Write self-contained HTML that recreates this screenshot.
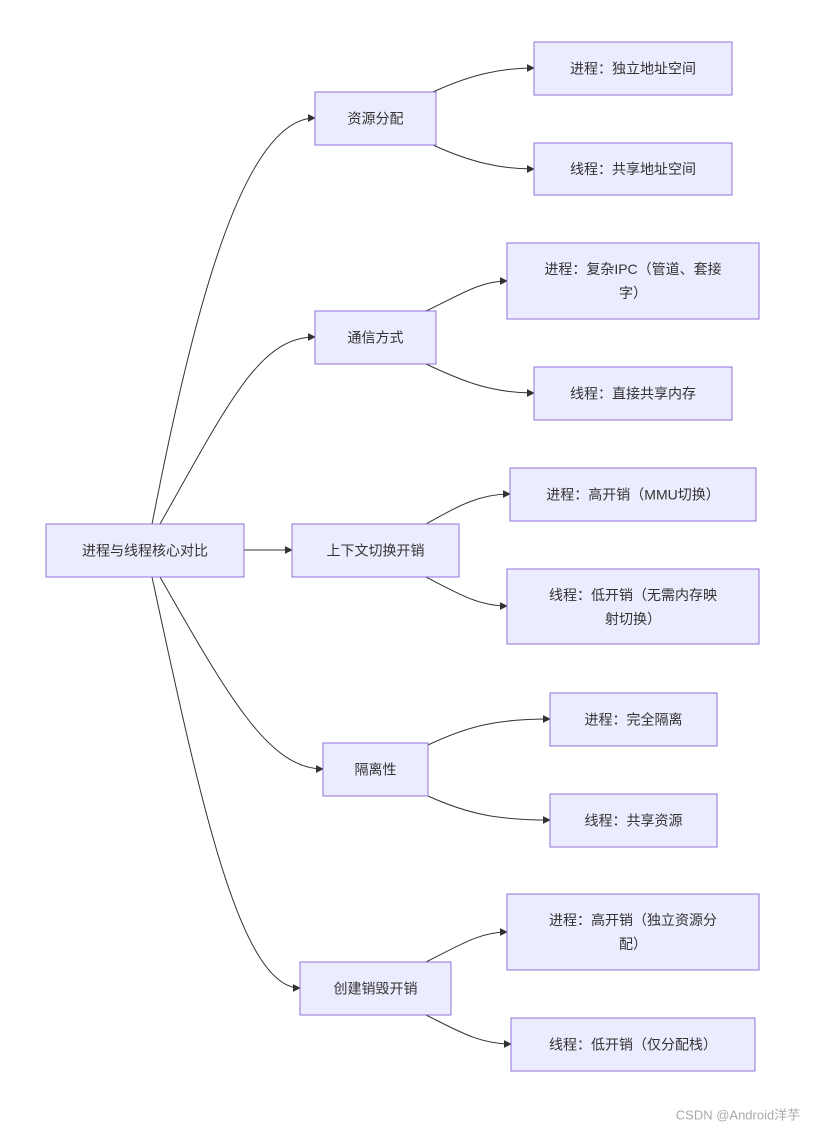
<!DOCTYPE html>
<html><head><meta charset="utf-8"><style>
body{margin:0;background:#fff;}
svg text{font-family:"Liberation Sans","Noto Sans CJK SC",sans-serif;font-size:14px;fill:#333;text-anchor:middle;dominant-baseline:central;}
rect{fill:#ECECFF;stroke:#9370DB;stroke-width:1;}
path{fill:none;stroke:#333;stroke-width:1;}
</style></head><body>
<svg width="821" height="1130" xmlns="http://www.w3.org/2000/svg">
<defs><marker id="a" viewBox="0 0 10 10" refX="9" refY="5" markerWidth="8" markerHeight="8" orient="auto"><path d="M0,0L10,5L0,10z" style="fill:#333;stroke:none"/></marker></defs>
<g marker-end="url(#a)">
<path d="M152,524 C190,330 240,118 315,118"/>
<path d="M160,524 C230,400 260,337 315,337"/>
<path d="M244,550 L292,550"/>
<path d="M160,577 C230,700 270,769 323,769"/>
<path d="M152,577 C200,800 240,988 300,988"/>
<path d="M433,92 C470,75 500,68 534,68"/>
<path d="M433,145 C470,162 500,169 534,169"/>
<path d="M426,311 C460,295 480,281 507,281"/>
<path d="M426,364 C460,380 490,393 534,393"/>
<path d="M426,524 C460,505 480,494 510,494"/>
<path d="M426,577 C460,595 480,606 507,606"/>
<path d="M428,745 C470,725 500,719 550,719"/>
<path d="M428,796 C470,815 500,820 550,820"/>
<path d="M426,962 C460,945 480,932 507,932"/>
<path d="M426,1015 C460,1032 480,1044 511,1044"/>
</g>
<rect x="46" y="524" width="198" height="53"/><text x="145" y="550.5">进程与线程核心对比</text>
<rect x="315" y="92" width="121" height="53"/><text x="375.5" y="118.5">资源分配</text>
<rect x="534" y="42" width="198" height="53"/><text x="633" y="68.5">进程：独立地址空间</text>
<rect x="534" y="143" width="198" height="52"/><text x="633" y="169">线程：共享地址空间</text>
<rect x="315" y="311" width="121" height="53"/><text x="375.5" y="337.5">通信方式</text>
<rect x="507" y="243" width="252" height="76"/><text x="633" y="269">进程：复杂IPC（管道、套接</text><text x="633" y="293">字）</text>
<rect x="534" y="367" width="198" height="53"/><text x="633" y="393.5">线程：直接共享内存</text>
<rect x="292" y="524" width="167" height="53"/><text x="375.5" y="550.5">上下文切换开销</text>
<rect x="510" y="468" width="246" height="53"/><text x="633" y="494.5">进程：高开销（MMU切换）</text>
<rect x="507" y="569" width="252" height="75"/><text x="633" y="595">线程：低开销（无需内存映</text><text x="633" y="619">射切换）</text>
<rect x="323" y="743" width="105" height="53"/><text x="375.5" y="769.5">隔离性</text>
<rect x="550" y="693" width="167" height="53"/><text x="633.5" y="719.5">进程：完全隔离</text>
<rect x="550" y="794" width="167" height="53"/><text x="633.5" y="820.5">线程：共享资源</text>
<rect x="300" y="962" width="151" height="53"/><text x="375.5" y="988.5">创建销毁开销</text>
<rect x="507" y="894" width="252" height="76"/><text x="633" y="920">进程：高开销（独立资源分</text><text x="633" y="944">配）</text>
<rect x="511" y="1018" width="244" height="53"/><text x="633" y="1044.5">线程：低开销（仅分配栈）</text>
<text x="738" y="1115" style="fill:#aaa;font-size:13px">CSDN @Android洋芋</text>
</svg>
</body></html>
